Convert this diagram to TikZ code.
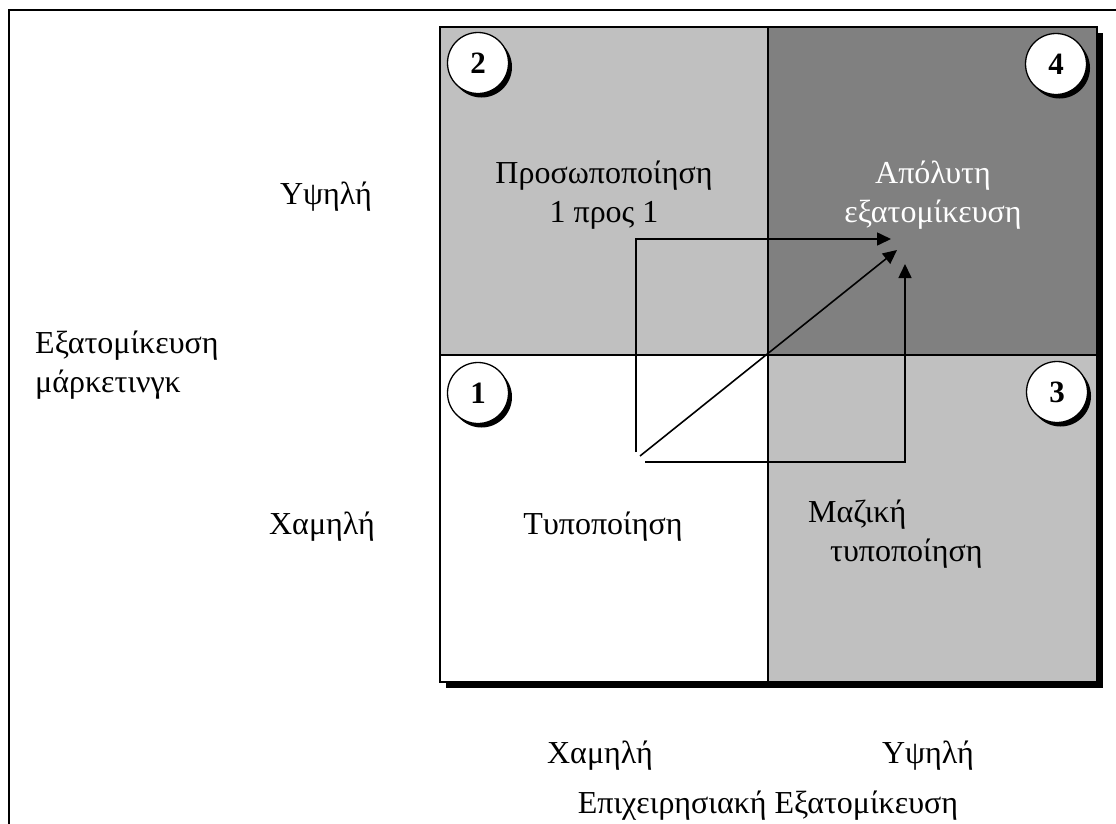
\documentclass[tikz,border=0pt]{standalone}
\usepackage{fontspec}
\setmainfont{Liberation Serif}
\usetikzlibrary{arrows.meta,shadows}
\definecolor{lightq}{HTML}{C0C0C0}
\definecolor{darkq}{HTML}{808080}
\begin{document}
\begin{tikzpicture}[x=1pt,y=-1pt,
  lbl/.style={font=\fontsize{32}{39}\selectfont, inner sep=0pt, anchor=base},
  badge/.style={circle, draw=black, line width=1.3pt, fill=white, minimum size=61pt,
    inner sep=0pt, font=\fontsize{31}{31}\selectfont\bfseries,
    drop shadow={shadow xshift=3.5pt, shadow yshift=-4pt, fill=black, opacity=1}},
  gridline/.style={line width=1.4pt},
  flow/.style={line width=1.6pt, -{Triangle[length=14pt,width=13pt]}}]
\useasboundingbox (0,0) rectangle (1116,823);
% page frame, only its top and left edges fall inside the picture
\begin{scope}
  \clip (0,0) rectangle (1116,823);
  \draw[line width=2pt] (9,10) rectangle (1150,860);
\end{scope}
% matrix with its shadow
\fill[black] (446,33) rectangle (1103,688);
\fill[white] (440,355) rectangle (768,682);
\fill[lightq] (440,27) rectangle (768,355);
\fill[lightq] (768,355) rectangle (1097,682);
\fill[darkq] (768,27) rectangle (1097,355);
\draw[gridline] (440,27) rectangle (1097,682);
\draw[gridline] (768,27) -- (768,682);
\draw[gridline] (440,355) -- (1097,355);
% quadrant numbers
\node[badge] (b2) at (478,63) {2};
\node[badge] (b4) at (1056,64) {4};
\node[badge] (b1) at (478,393) {1};
\node[badge] (b3) at (1057,392) {3};
% quadrant captions (base anchor sits on the last line)
\node[lbl, align=center] (q2) at (604,222) {Προσωποποίηση\\1 προς 1};
\node[lbl, align=center, text=white] (q4) at (933,222) {Απόλυτη\\εξατομίκευση};
\node[lbl] (q1) at (603,534) {Τυποποίηση};
\node[lbl, anchor=base west] (q3a) at (808,522) {Μαζική};
\node[lbl, anchor=base west] (q3b) at (830,561) {τυποποίηση};
% axis labels
\node[lbl] (yhi) at (326,204) {Υψηλή};
\node[lbl] (ylo) at (322,534) {Χαμηλή};
\node[lbl, anchor=base west, align=left] (yax) at (35,392) {Εξατομίκευση\\μάρκετινγκ};
\node[lbl] (xlo) at (600,763) {Χαμηλή};
\node[lbl] (xhi) at (928,763) {Υψηλή};
\node[lbl] (xax) at (768,813) {Επιχειρησιακή Εξατομίκευση};
% development paths towards the top-right quadrant
\coordinate (s1) at (636,452);
\coordinate (c1) at (636,239);
\coordinate (e1) at (891,239);
\coordinate (s2) at (640,456);
\coordinate (e2) at (897,250);
\coordinate (s3) at (645,462);
\coordinate (c3) at (905,462);
\coordinate (e3) at (905,264);
\draw[flow] (s1) -- (c1) -- (e1);
\draw[flow] (s2) -- (e2);
\draw[flow] (s3) -- (c3) -- (e3);
\end{tikzpicture}
\end{document}
